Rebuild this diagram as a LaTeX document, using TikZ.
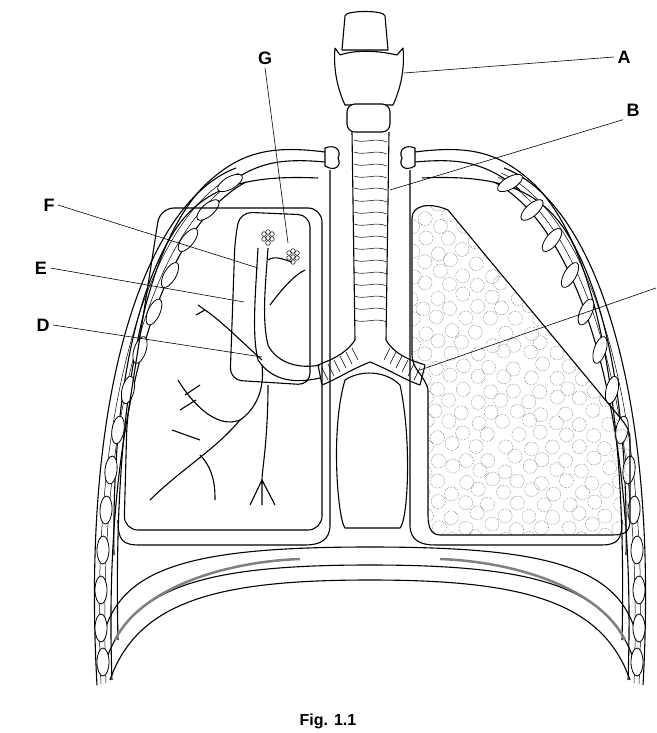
\documentclass[tikz,border=0pt]{standalone}
\usepackage{fontspec}
\setmainfont{Liberation Sans}
\usetikzlibrary{shapes.geometric,calc}
\begin{document}
\begin{tikzpicture}[x=1pt,y=-1pt,
  ln/.style={line width=1.1pt,line join=round},
  thin/.style={line width=0.5pt},
  lead/.style={line width=0.6pt},
  lab/.style={font=\bfseries\fontsize{18}{20}\selectfont},
  musc/.style={ellipse,draw,line width=0.8pt,fill=white,minimum width=12pt,minimum height=28pt,inner sep=0pt}]
\useasboundingbox (0,0) rectangle (656,733);
% ---- outer chest wall (both sides, mirror about x=370)
\foreach \s in {1,-1}{
\begin{scope}[xshift={370*(1-\s)*1pt},xscale=\s]
 \draw[ln] (236,168) .. controls (150,200) and (80,380) .. (97,685);
 \draw[ln] (246,182) .. controls (165,225) and (102,400) .. (112,680);
 \draw[thin] (239,173) .. controls (155,210) and (88,390) .. (101,684);
 \draw[thin] (242,177) .. controls (160,218) and (95,395) .. (106,683);
 \draw[ln] (325,152) .. controls (270,145) and (240,152) .. (205,185)
   .. controls (150,240) and (112,380) .. (118,640);
 \draw[ln] (325,162) .. controls (280,158) and (255,162) .. (220,190);
 % clavicle knob
 \draw[ln,fill=white] (325,148) .. controls (335,144) and (342,150) .. (338,158)
   .. controls (342,166) and (335,172) .. (325,166) -- cycle;
 \draw[ln] (330,170) -- (330,525)
   .. controls (330,540) and (320,545) .. (305,545) -- (140,545)
   .. controls (122,545) and (118,540) .. (118,520);
 \draw[ln] (318,178) .. controls (250,175) and (205,185) .. (175,230)
   .. controls (130,300) and (112,420) .. (114,555);
 \draw[ln] (105,630) .. controls (125,565) and (200,547) .. (370,547);
 \draw[ln] (108,655) .. controls (135,585) and (210,565) .. (370,565);
 \draw[line width=2.5pt,gray] (115,640) .. controls (140,590) and (220,562) .. (300,559);
 \draw[ln] (110,680) .. controls (138,600) and (220,580) .. (370,580);
 \foreach \p/\a in {(230,183)/-60,(208,210)/-48,(188,240)/-38,(170,275)/-30,(154,312)/-24,(140,350)/-18,(128,390)/-13,(118,430)/-9,(111,470)/-6,(106,510)/-3,(103,550)/-1,(101,590)/0,(101,628)/0,(103,662)/0}
   \node[musc,rotate=\a] at \p {};
\end{scope}}
% ---- left lung cavity
\draw[ln,rounded corners=14pt] (322,208) -- (160,208) -- (127,420) -- (124,530) -- (322,530) -- cycle;
\draw[ln,rounded corners=12pt] (310,215) -- (240,212) -- (235,240) -- (230,380) -- (310,385) -- cycle;
% main bronchus trunk (outlined)
\draw[ln] (320,365) .. controls (295,370) and (275,360) .. (268,345)
  .. controls (262,320) and (265,290) .. (268,248);
\draw[ln] (320,378) .. controls (290,385) and (270,378) .. (258,360)
  .. controls (252,335) and (255,300) .. (258,248);
\draw[ln] (262,360) .. controls (240,340) and (220,320) .. (205,310);
\draw[ln] (205,310) -- (198,305) (205,310) -- (196,315);
\draw[ln] (262,365) .. controls (265,390) and (255,410) .. (240,420)
  .. controls (215,430) and (190,400) .. (178,380);
\draw[ln] (240,420) .. controls (215,450) and (180,470) .. (150,500);
\draw[ln] (200,455) .. controls (215,470) and (215,490) .. (215,500);
\draw[ln] (172,430) -- (200,440) (185,395) -- (200,385) (180,410) -- (196,400);
\draw[ln] (268,385) .. controls (268,440) and (262,470) .. (262,480);
\draw[ln] (262,480) -- (250,505) (262,480) -- (275,505) (262,480) -- (262,505);
\draw[ln] (268,260) .. controls (275,255) and (285,260) .. (292,262);
\draw[ln] (270,305) .. controls (285,285) and (295,275) .. (305,270);
\foreach \c in {(268,237),(293,256)}{
 \foreach \dx/\dy in {-4/-3,0/-5,4/-3,-4/2,0/1,4/2,0/6}
   \draw[thin] \c ++(\dx,\dy) circle (2.3pt);}
% ---- heart space
\draw[ln] (345,380) .. controls (330,430) and (338,520) .. (345,528) -- (400,528)
  .. controls (408,520) and (412,440) .. (400,385) .. controls (385,370) and (360,370) .. (345,380);
% ---- right lung
\def\rlung{(412,218) .. controls (412,205) and (430,202) .. (448,210)
  -- (622,420) .. controls (628,428) and (630,432) .. (630,440) -- (630,520)
  .. controls (630,532) and (625,535) .. (612,535) -- (440,535)
  .. controls (430,535) and (428,525) .. (428,515) -- (428,390)
  .. controls (425,375) and (412,370) .. (412,355) -- cycle}
\begin{scope}
\path[clip] \rlung;
\pgfmathsetseed{7}
\foreach \i in {0,...,17}{\foreach \j in {0,...,14}{
  \pgfmathsetmacro\xx{412+\i*13+rand*3}
  \pgfmathsetmacro\yy{205+\j*23+mod(\i,2)*11+rand*3}
  \draw[thin,densely dotted,gray!70!black] (\xx,\yy) circle (7pt);}}
\end{scope}
\draw[ln] \rlung;
% ---- larynx and trachea
\draw[ln,fill=white] (345,16) .. controls (345,10) and (385,10) .. (385,16) -- (388,50) -- (342,50) -- cycle;
\draw[ln,fill=white] (335,48) -- (340,55) .. controls (355,50) and (375,50) .. (397,55) -- (403,48)
  .. controls (405,70) and (400,90) .. (393,105) -- (345,105) .. controls (338,90) and (333,70) .. (335,48);
\draw[ln,fill=white,rounded corners=8pt] (347,104) rectangle (390,132);
\draw[ln] (352,132) -- (355,340) (389,132) -- (386,340);
\foreach \y in {140,152,...,330}
  \draw[thin] (354,\y) .. controls (365,\y+4) and (375,\y-3) .. (387,\y+2);
\draw[ln] (355,340) .. controls (345,355) and (330,360) .. (318,365) -- (322,385)
  .. controls (335,380) and (350,370) .. (370,362) .. controls (390,370) and (405,380) .. (420,385)
  -- (425,365) .. controls (410,360) and (395,355) .. (386,340);
\foreach \t in {0,1,...,5}{
  \draw[thin] ($(352,348)!\t/5!(322,368)$) -- +(6,12);
  \draw[thin] ($(390,348)!\t/5!(420,368)$) -- +(-6,12);}
% labels
\node[lab] (A) at (624,57) {A};
\node[lab] (B) at (633,110) {B};
\node[lab] (G) at (265,58) {G};
\node[lab] (F) at (49,205) {F};
\node[lab] (E) at (41,268) {E};
\node[lab] (D) at (43,325) {D};
\coordinate (H) at (656,288);
\coordinate (a) at (404,73);
\coordinate (b) at (390,190);
\coordinate (g) at (288,243);
\coordinate (f) at (258,268);
\coordinate (e) at (244,302);
\coordinate (d) at (262,357);
\coordinate (h) at (420,370);
\draw[lead] (A.west) -- (a);
\draw[lead] (B.south west) -- (b);
\draw[lead] (G.south) -- (g);
\draw[lead] (F.east) -- (f);
\draw[lead] (E.east) -- (e);
\draw[lead] (D.east) -- (d);
\draw[lead] (H) -- (h);
\node[font=\bfseries\fontsize{16}{18}\selectfont] (fig) at (328,721) {Fig. 1.1};
\end{tikzpicture}
\end{document}
